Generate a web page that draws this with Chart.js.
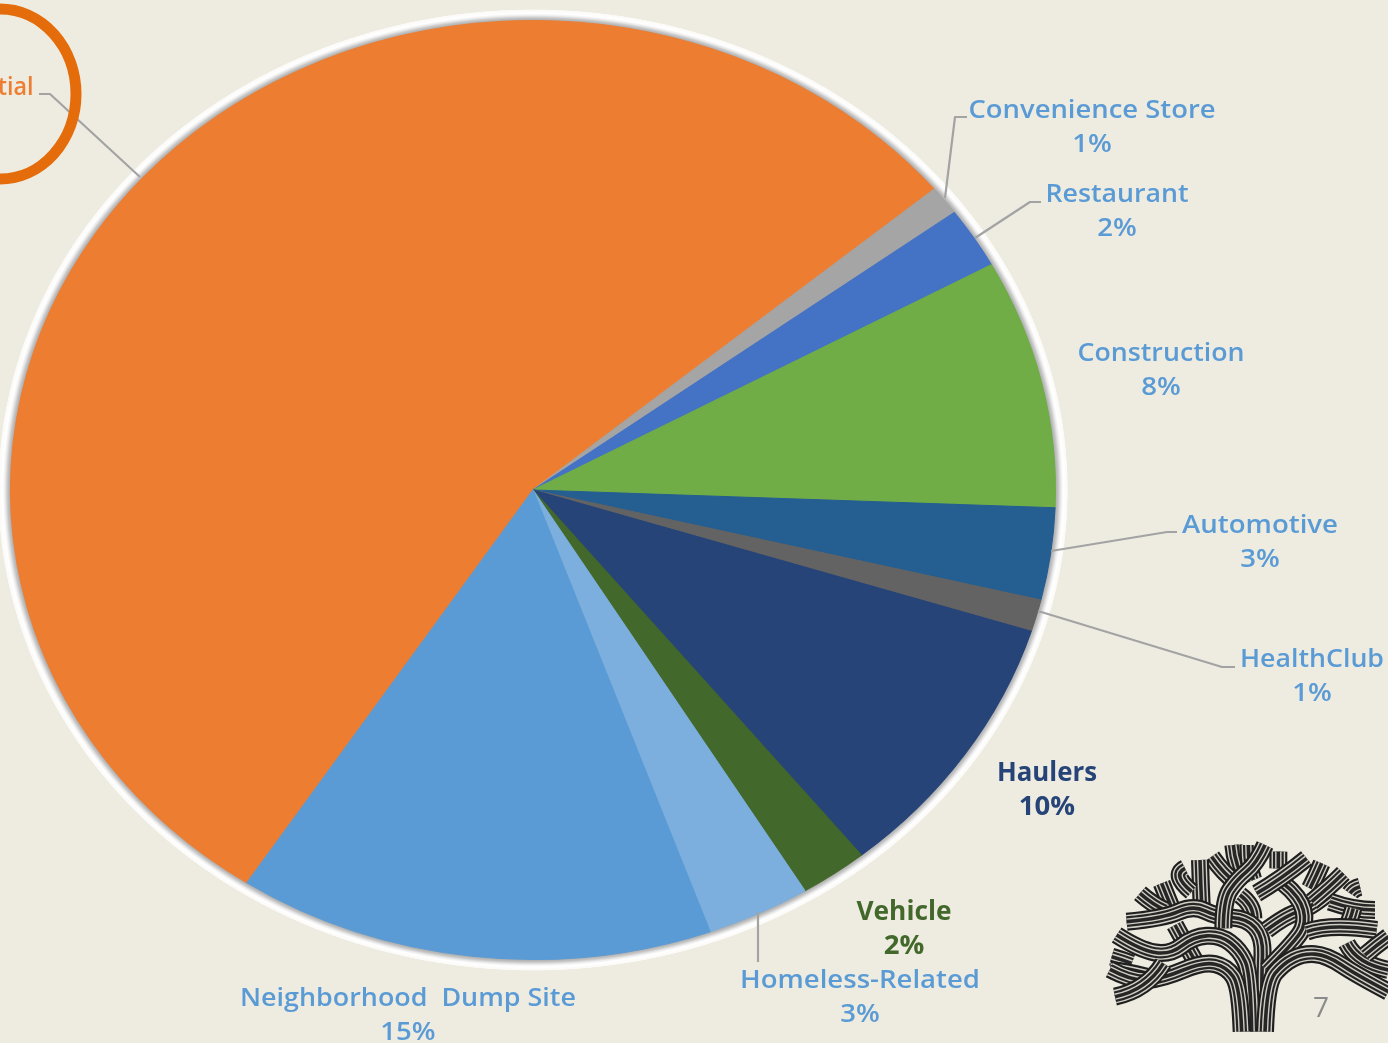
<!DOCTYPE html>
<html><head><meta charset="utf-8">
<style>html,body{margin:0;padding:0;background:#EEECE1;overflow:hidden}canvas{display:block}</style>
<script src="https://cdn.jsdelivr.net/npm/chart.js@4/dist/chart.umd.min.js"></script>
</head><body><canvas id="c" width="1388" height="1043"></canvas>
<script>
const categories = ['Residential','Convenience Store','Restaurant','Construction','Automotive','HealthClub','Haulers','Vehicle','Homeless-Related','Neighborhood  Dump Site'];
const shares = [54.6,1.0,2.1,8.55,3.15,1.1,9.3,2.1,3.2,14.7];
const percentLabels = ['55%','1%','2%','8%','3%','1%','10%','2%','3%','15%'];
const sliceColors = ['#ED7D31','#A5A5A5','#4472C4','#70AD47','#255E91','#636363','#264478','#43682B','#7CAFDD','#5B9BD5'];
const labelColors = ['#ED7D31','#5B9BD5','#5B9BD5','#5B9BD5','#5B9BD5','#5B9BD5','#264478','#43682B','#5B9BD5','#5B9BD5'];
// label layout: centre x, name y, percent y, name width
const labelLayout = [[-29,88,122,125],[1092,111,145,247],[1117,195,229,143],[1161,354,388,167],[1260,526,560,156],[1312,660,694,144],[1047,774,808,100],[904,913,947,95],[860,981,1015,240],[408,999,1033,336]];
const leaders = [[[39,94],[50,94],[140,177]],[[967,117],[955,117],[945,198]],[[1041,202],[1030,202],[975,238]],[[1177,532],[1167,532],[1051,551]],[[1235,667],[1222,667],[1038,611]],[[758,912],[758,962]]];
const treeStrands = [
 [[430,45],[435,110],[470,160]],[[475,45],[475,110],[490,150]],[[365,80],[400,130],[440,160]],
 [[330,90],[332,160],[335,225]],[[285,115],[245,135],[305,185]],[[215,160],[235,210],[250,245]],[[150,190],[190,225],[225,240]],
 [[450,195],[490,225],[490,265]],
 [[110,275],[220,265],[310,225],[380,260],[470,265],[520,320],[515,430],[515,605]],
 [[525,45],[500,100],[440,150],[400,210],[400,295]],
 [[255,285],[285,340],[315,392]],
 [[80,315],[150,360],[240,375],[310,320],[390,315],[450,360],[482,430],[485,605]],
 [[65,380],[100,390],[125,400]],
 [[60,420],[110,425],[170,440]],
 [[60,418],[130,455],[220,445],[340,395],[410,410],[450,470],[455,605]],
 [[75,500],[170,480],[220,400]],
 [[565,65],[565,90],[565,115]],
 [[530,300],[590,255],[660,235],[720,185]],
 [[660,175],[680,135],[695,100]],[[665,215],[720,170],[760,130]],
 [[530,420],[610,340],[650,280],[630,200],[580,160]],
 [[500,190],[570,150],[650,85]],
 [[720,215],[790,240],[855,240]],[[780,190],[790,175],[810,170]],[[775,280],[785,255],[790,235]],
 [[650,305],[720,280],[860,300]],
 [[770,340],[800,400],[895,420]],[[825,375],[860,345],[895,320]],
 [[525,605],[530,460],[580,400],[640,370],[710,375],[800,435],[895,485]]
];
function strandPath(ctx,p){
  const o=[1090,830],s=1/3,P=p.map(q=>[o[0]+q[0]*s,o[1]+q[1]*s]);
  ctx.beginPath();ctx.moveTo(P[0][0],P[0][1]);
  for(let i=1;i<P.length-1;i++){const m=[(P[i][0]+P[i+1][0])/2,(P[i][1]+P[i+1][1])/2];
    if(i===P.length-2)ctx.quadraticCurveTo(P[i][0],P[i][1],P[i+1][0],P[i+1][1]);
    else ctx.quadraticCurveTo(P[i][0],P[i][1],m[0],m[1]);}
}
const decor = {
  id:'decor',
  beforeDatasetsDraw(chart){
    const ctx=chart.ctx,a=chart.getDatasetMeta(0).data[0],cx=a.x,cy=a.y,R=a.outerRadius,k=chart.chartArea.width/chart.chartArea.height;
    ctx.save();ctx.translate(cx,cy);ctx.scale(k,1);
    const r0=R-1,r1=R+11.5,g=ctx.createRadialGradient(0,0,r0,0,0,r1),at=d=>(d+1)/12.5;
    g.addColorStop(0,'#a0a0a0');g.addColorStop(at(2.5),'#c4c4c4');g.addColorStop(at(5),'#ececec');g.addColorStop(at(7),'#ffffff');g.addColorStop(at(10.7),'#fbfaf7');g.addColorStop(1,'rgba(238,236,225,0)');
    ctx.fillStyle=g;ctx.beginPath();ctx.arc(0,0,r1,0,Math.PI*2);ctx.fill();ctx.restore();
    ctx.save();ctx.translate(cx,cy);ctx.scale(k,1);ctx.translate(-cx,-cy);
  },
  afterDatasetsDraw(chart){
    const ctx=chart.ctx;ctx.restore();
    // leader lines
    ctx.save();ctx.strokeStyle='#A3A3A3';ctx.lineWidth=2.2;ctx.lineJoin='round';
    leaders.forEach(l=>{ctx.beginPath();l.forEach((p,i)=>i?ctx.lineTo(p[0],p[1]):ctx.moveTo(p[0],p[1]));ctx.stroke();});
    ctx.restore();
    // category + percent labels
    ctx.save();ctx.textAlign='center';ctx.textBaseline='middle';ctx.filter='blur(0.4px)';
    categories.forEach((name,i)=>{
      const [x,y,y2,w]=labelLayout[i];
      ctx.fillStyle=labelColors[i];
      const bold=i===6||i===7?700:600;
      ctx.font=bold+' 26px "Open Sans"';
      const m=ctx.measureText(name).width;
      ctx.save();ctx.translate(x,y);ctx.scale(w/m,1);ctx.fillText(name,0,0);ctx.restore();
      ctx.save();ctx.translate(x,y2);ctx.scale(1.06,1);ctx.fillText(percentLabels[i],0,0);ctx.restore();
    });
    ctx.restore();
    // highlight ellipse
    ctx.save();ctx.strokeStyle='#E46C0A';ctx.lineWidth=11;ctx.beginPath();ctx.ellipse(0,94,76,85,0,0,Math.PI*2);ctx.stroke();ctx.restore();
    // tree emblem
    ctx.save();ctx.lineCap='butt';ctx.lineJoin='round';ctx.filter='blur(0.4px)';
    treeStrands.forEach(p=>{
      [[18,'#1f1f1f'],[13.6,'#D2D0C6'],[10.8,'#262626'],[6.4,'#CFCDC3'],[3.6,'#262626']].forEach(([w,c])=>{
        ctx.lineWidth=w;ctx.strokeStyle=c;strandPath(ctx,p);ctx.stroke();});
    });
    ctx.restore();
    // page number
    ctx.save();ctx.fillStyle='#8B8B8B';ctx.font='28px "Open Sans"';ctx.textAlign='center';ctx.textBaseline='middle';ctx.fillText('7',1321,1009);ctx.restore();
  }
};
new Chart(document.getElementById('c'),{
  type:'pie',
  data:{labels:categories,datasets:[{data:shares,backgroundColor:sliceColors,borderColor:sliceColors,borderWidth:1,clip:false}]},
  options:{
    responsive:false,animation:false,devicePixelRatio:1,rotation:213.2,
    layout:{padding:{left:10,right:332,top:20,bottom:83}},
    plugins:{legend:{display:false},tooltip:{enabled:false},title:{display:false}},
    events:[]
  },
  plugins:[decor]
});
</script></body></html>
